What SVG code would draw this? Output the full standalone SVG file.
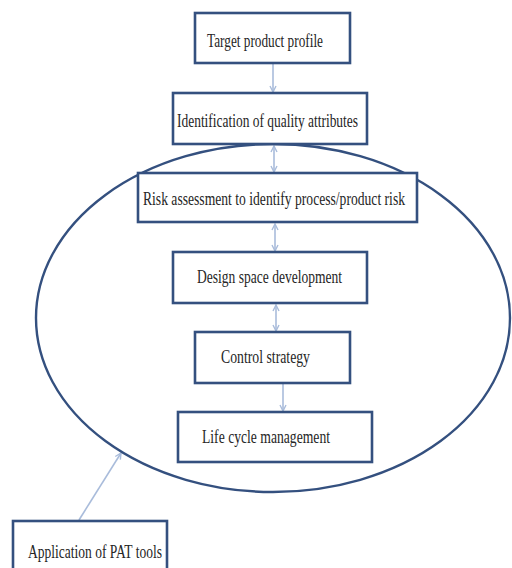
<svg xmlns="http://www.w3.org/2000/svg" width="512" height="568" viewBox="0 0 512 568">
<style>
.box{fill:#ffffff;stroke:#34507f;stroke-width:2.6}
.lbl{font-family:"Liberation Serif","Times New Roman",serif;font-size:18px;fill:#262626}
.con{stroke:#a9bcdb;stroke-width:1.6;fill:none}
.ell{fill:none;stroke:#34507f;stroke-width:2.4}
</style>
<defs>
<marker id="ah" viewBox="0 0 8 8" refX="7" refY="4" markerWidth="8" markerHeight="8" orient="auto-start-reverse" markerUnits="userSpaceOnUse">
<path d="M1,1 L7,4 L1,7" fill="none" stroke="#a9bcdb" stroke-width="1.4"/>
</marker>
</defs>
<rect width="512" height="568" fill="#ffffff"/>
<g id="connectors">
<line class="con" x1="273" y1="64" x2="273" y2="92" marker-end="url(#ah)"/>
<line class="con" x1="274" y1="146" x2="274" y2="172" marker-start="url(#ah)" marker-end="url(#ah)"/>
<line class="con" x1="275" y1="224" x2="275" y2="251" marker-start="url(#ah)" marker-end="url(#ah)"/>
<line class="con" x1="276" y1="305" x2="276" y2="331" marker-start="url(#ah)" marker-end="url(#ah)"/>
<line class="con" x1="283" y1="384" x2="283" y2="411" marker-end="url(#ah)"/>
<line class="con" x1="79" y1="520" x2="121" y2="453" marker-end="url(#ah)"/>
</g>
<g id="scope">
<ellipse class="ell" cx="273" cy="318" rx="237" ry="174"/>
</g>
<g id="n1"><rect class="box" x="195" y="13" width="155" height="50"/><text class="lbl" x="207" y="47" textLength="116" lengthAdjust="spacingAndGlyphs">Target product profile</text></g>
<g id="n2"><rect class="box" x="173" y="93" width="194" height="51"/><text class="lbl" x="177" y="127" textLength="181" lengthAdjust="spacingAndGlyphs">Identification of quality attributes</text></g>
<g id="n3"><rect class="box" x="138" y="173" width="279" height="49"/><text class="lbl" x="143" y="205" textLength="262" lengthAdjust="spacingAndGlyphs">Risk assessment to identify process/product risk</text></g>
<g id="n4"><rect class="box" x="173" y="252" width="194" height="51"/><text class="lbl" x="197" y="283" textLength="145" lengthAdjust="spacingAndGlyphs">Design space development</text></g>
<g id="n5"><rect class="box" x="195" y="332" width="155" height="51"/><text class="lbl" x="221" y="363" textLength="89" lengthAdjust="spacingAndGlyphs">Control strategy</text></g>
<g id="n6"><rect class="box" x="178" y="412" width="194" height="50"/><text class="lbl" x="202" y="443" textLength="128" lengthAdjust="spacingAndGlyphs">Life cycle management</text></g>
<g id="n7"><rect class="box" x="13" y="521" width="154" height="62"/><text class="lbl" x="28" y="558" textLength="134" lengthAdjust="spacingAndGlyphs">Application of PAT tools</text></g>
</svg>
